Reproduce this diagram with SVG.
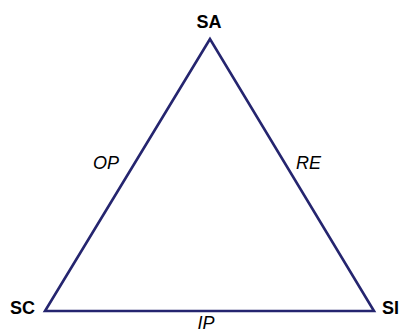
<svg xmlns="http://www.w3.org/2000/svg" width="402" height="333" viewBox="0 0 402 333">
<style>
.edge{fill:none;stroke:#25256f;stroke-width:2.6;stroke-linejoin:miter}
.v{font-family:"Liberation Sans",Arial,sans-serif;font-weight:bold;font-size:18px;fill:#000}
.e{font-family:"Liberation Sans",Arial,sans-serif;font-style:italic;font-size:18px;fill:#000}
</style>
<rect width="402" height="333" fill="#fff"/>
<g id="connectors">
<path class="edge" d="M210,39 L45,311 L374,311 Z"/>
<text class="e" x="93" y="169">OP</text>
<text class="e" x="296" y="169">RE</text>
<text class="e" x="206" y="329" text-anchor="middle">IP</text>
</g>
<g id="SA"><text class="v" x="209" y="28" text-anchor="middle">SA</text></g>
<g id="SC"><text class="v" x="10" y="314">SC</text></g>
<g id="SI"><text class="v" x="382" y="314">SI</text></g>
</svg>
